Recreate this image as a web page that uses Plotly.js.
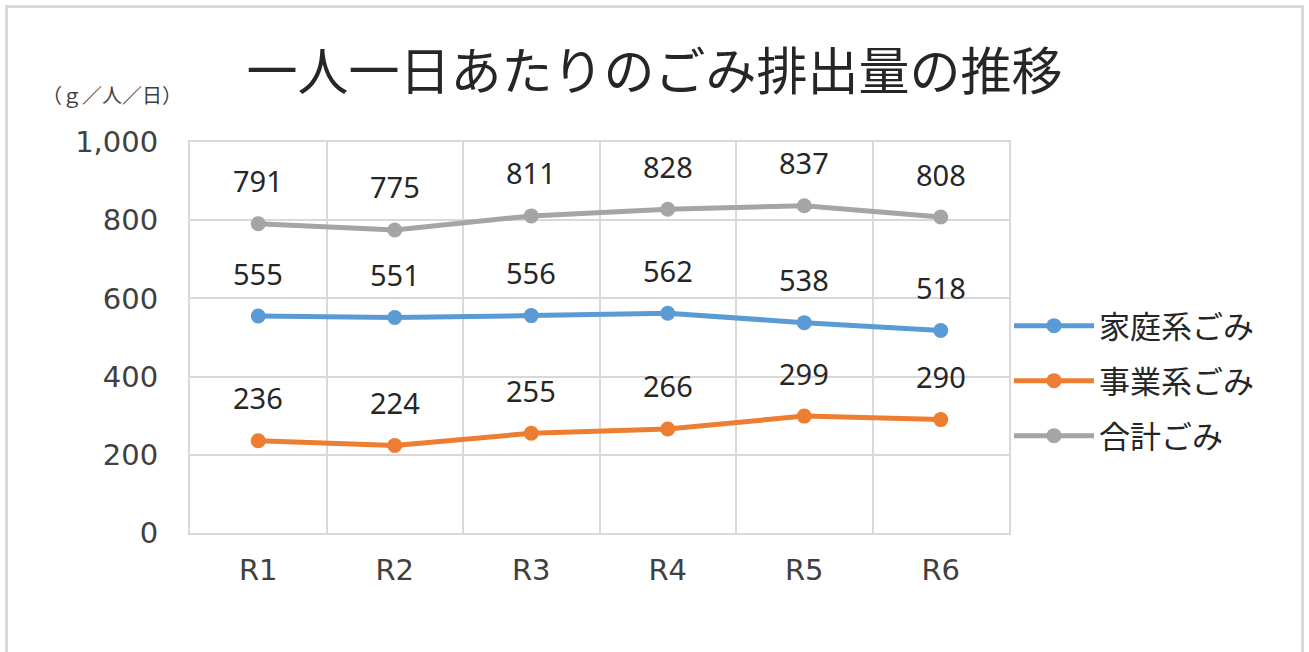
<!DOCTYPE html>
<html><head><meta charset="utf-8">
<script src="https://cdn.plot.ly/plotly-3.0.1.min.js"></script>
<style>
html,body{margin:0;padding:0;background:#fff;}
#wrap{position:relative;width:1309px;height:652px;overflow:hidden;}
#chart{position:absolute;left:0;top:0;width:1309px;height:652px;}
#frame{position:absolute;left:5px;top:5px;width:1293px;height:700px;border:3px solid #D9D9D9;pointer-events:none;}
</style></head>
<body><div id="wrap"><div id="chart"></div><div id="frame"></div></div>
<script>
const categories = ['R1','R2','R3','R4','R5','R6'];
const household = [555, 551, 556, 562, 538, 518];
const business = [236, 224, 255, 266, 299, 290];
const total = [791, 775, 811, 828, 837, 808];
const seriesNames = ['家庭系ごみ','事業系ごみ','合計ごみ'];
const colors = ['#5B9BD5','#ED7D31','#A5A5A5'];
const yTicks = [0, 200, 400, 600, 800, 1000];
const yTickText = ['0','200','400','600','800','1,000'];

const all = [household, business, total];
const legendIds = ['legend','legend2','legend3'];
const traces = all.map((vals, i) => ({
  type: 'scatter', mode: 'lines+markers', x: categories, y: vals, name: seriesNames[i],
  legend: legendIds[i],
  line: {color: colors[i], width: 5}, marker: {color: colors[i], size: 15},
  cliponaxis: false
}));
const annotations = [];
all.forEach((vals) => {
  vals.forEach((v, j) => {
    annotations.push({x: categories[j], y: v, text: String(v), showarrow: false,
      yshift: 43, yanchor: 'middle', font: {family: 'Noto Sans, Open Sans, sans-serif', size: 29, color: '#262626'}});
  });
});
annotations.push({xref: 'paper', yref: 'paper', x: -0.183, y: 1.08, xanchor: 'left', yanchor: 'bottom',
  text: '（ｇ／人／日）', showarrow: false, font: {family: 'Noto Sans CJK JP', size: 20, color: '#404040'}});

const legendBase = {x: 1.0, xanchor: 'left', yanchor: 'middle', itemwidth: 80,
  font: {family: 'Noto Sans CJK JP', size: 31, color: '#262626'}, bgcolor: 'rgba(0,0,0,0)'};
const legendRowsY = [326, 381, 436];

const layout = {
  width: 1309, height: 652,
  margin: {l: 190, r: 300, t: 142, b: 119},
  paper_bgcolor: '#fff', plot_bgcolor: '#fff',
  title: {text: '一人一日あたりのごみ排出量の推移', x: 0.5, xref: 'container', xanchor: 'center', y: 0.89, yanchor: 'middle',
    font: {family: 'Noto Sans CJK JP', size: 51, color: '#262626'}},
  xaxis: {type: 'category', range: [-0.5, 5.5], tickson: 'boundaries', showgrid: true, gridcolor: '#D9D9D9', gridwidth: 2,
    showline: true, linecolor: '#D9D9D9', linewidth: 2, mirror: true, ticks: '', ticklen: 0, ticklabelstandoff: 10,
    tickfont: {family: 'DejaVu Sans, sans-serif', size: 29, color: '#404040'}, zeroline: false},
  yaxis: {range: [0, 1000], tickvals: yTicks, ticktext: yTickText, showgrid: true, gridcolor: '#D9D9D9', gridwidth: 2,
    showline: true, linecolor: '#D9D9D9', linewidth: 2, mirror: true, ticks: '', zeroline: false,
    tickfont: {family: 'DejaVu Sans, sans-serif', size: 29, color: '#404040'}, ticklabelstandoff: 24},
  showlegend: true,
  annotations: annotations
};
legendIds.forEach((id, i) => {
  layout[id] = Object.assign({}, legendBase, {y: (533 - legendRowsY[i]) / 391});
});
Plotly.newPlot('chart', traces, layout, {displayModeBar: false, staticPlot: true});
</script></body></html>
